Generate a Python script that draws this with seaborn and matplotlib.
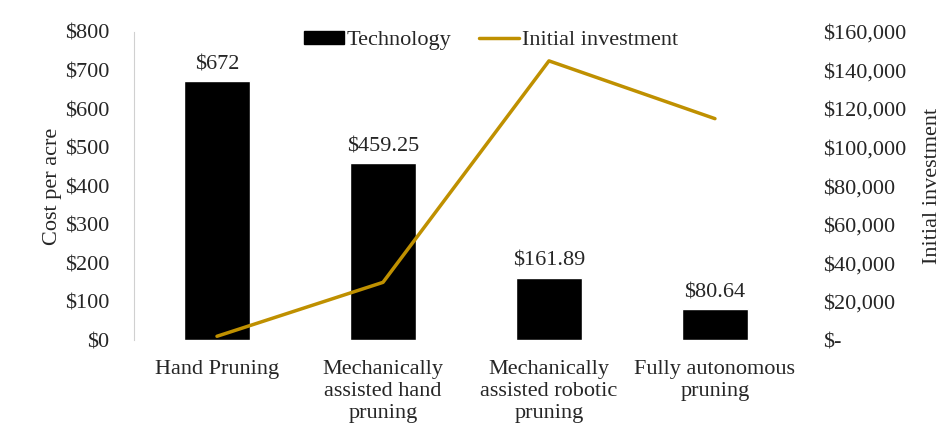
import seaborn as sns
import matplotlib.pyplot as plt
from matplotlib.patches import Patch
from matplotlib.lines import Line2D
from matplotlib.ticker import FuncFormatter

categories = ["Hand Pruning", "Mechanically\nassisted hand\npruning",
              "Mechanically\nassisted robotic\npruning", "Fully autonomous\npruning"]
cost_per_acre = [672, 459.25, 161.89, 80.64]
cost_labels = ["$672", "$459.25", "$161.89", "$80.64"]
initial_investment = [2000, 30000, 145000, 115000]

gold = "#BF9000"
fs = 16

sns.set_style("white")
plt.rcParams['font.family'] = ['Liberation Serif', 'DejaVu Serif']
plt.rcParams['font.size'] = fs

fig = plt.figure(figsize=(9.53, 4.30), dpi=100)
ax = fig.add_axes([0.1406, 0.209, 0.6967, 0.7166])

sns.barplot(x=categories, y=cost_per_acre, color="black", width=0.4,
            saturation=1, ax=ax)
ax.bar_label(ax.containers[0], labels=cost_labels, padding=5, fontsize=fs)
ax.set_ylim(0, 800)
ax.set_xlim(-0.5, 3.5)
ax.set_yticks(range(0, 801, 100))
ax.yaxis.set_major_formatter(FuncFormatter(lambda v, p: f"${v:,.0f}"))
ax.set_ylabel("Cost per acre", fontsize=fs, labelpad=2)
ax.tick_params(axis='y', length=0, pad=18, labelsize=fs)
ax.tick_params(axis='x', length=0, pad=14, labelsize=fs)
for lbl in ax.get_xticklabels():
    lbl.set_linespacing(1.22)

ax2 = ax.twinx()
sns.lineplot(x=categories, y=initial_investment, color=gold, linewidth=2.5,
             sort=False, ax=ax2)
ax2.set_ylim(0, 160000)
ax2.set_yticks(range(0, 160001, 20000))
ax2.yaxis.set_major_formatter(
    FuncFormatter(lambda v, p: "$-" if v == 0 else f"${v:,.0f}"))
ax2.set_ylabel("Initial investment", fontsize=fs, labelpad=12)
ax2.tick_params(axis='y', length=0, pad=18, labelsize=fs)

for a in (ax, ax2):
    for s in a.spines.values():
        s.set_visible(False)
ax.spines['left'].set_visible(True)
ax.spines['left'].set_color("#d0d0d0")

handles = [Patch(facecolor="black", edgecolor="black"),
           Line2D([0], [0], color=gold, linewidth=2.5)]
ax2.legend(handles, ["Technology", "Initial investment"], loc="center",
           bbox_to_anchor=(0.538, 0.972), ncol=2, frameon=False,
           handlelength=1.8, handleheight=0.5, handletextpad=0.12,
           columnspacing=1.25, fontsize=fs)

plt.savefig("out.png", dpi=100)
plt.close()
